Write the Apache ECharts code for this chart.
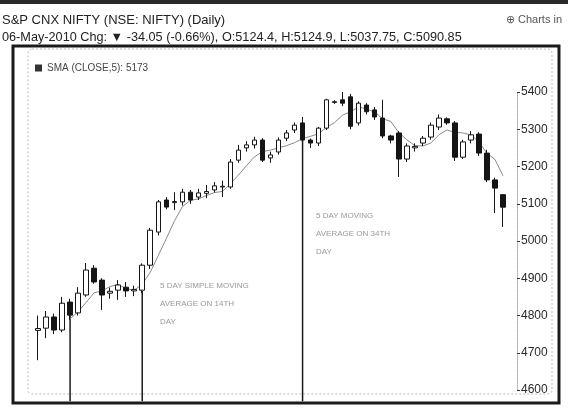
<!DOCTYPE html>
<html>
<head>
<meta charset="utf-8">
<title>S&amp;P CNX NIFTY (Daily)</title>
<script src="https://cdn.jsdelivr.net/npm/echarts@6/dist/echarts.min.js"></script>
<style>
    html, body { margin: 0; padding: 0; background: #fff; }
    #main { width: 568px; height: 409px; }
</style>
</head>
<body>
<div id="main"></div>
<script type="text/javascript">
// trading days, 8-Feb-2010 .. 6-May-2010
var dates = [
    '08-Feb', '09-Feb', '10-Feb', '11-Feb', '15-Feb', '16-Feb', '17-Feb', '18-Feb', '19-Feb', '22-Feb',
    '23-Feb', '24-Feb', '25-Feb', '26-Feb', '02-Mar', '03-Mar', '04-Mar', '05-Mar', '08-Mar', '09-Mar',
    '10-Mar', '11-Mar', '12-Mar', '15-Mar', '16-Mar', '17-Mar', '18-Mar', '19-Mar', '22-Mar', '23-Mar',
    '25-Mar', '26-Mar', '29-Mar', '30-Mar', '31-Mar', '01-Apr', '05-Apr', '06-Apr', '07-Apr', '08-Apr',
    '09-Apr', '12-Apr', '13-Apr', '15-Apr', '16-Apr', '19-Apr', '20-Apr', '21-Apr', '22-Apr', '23-Apr',
    '26-Apr', '27-Apr', '28-Apr', '29-Apr', '30-Apr', '03-May', '04-May', '05-May', '06-May'
];
var opens  = [4760, 4766, 4796, 4761, 4836, 4807, 4855, 4927, 4895, 4860,
              4868, 4876, 4866, 4868, 4935, 5024, 5110, 5103, 5105, 5131,
              5118, 5128, 5137, 5145, 5145, 5217, 5250, 5258, 5271, 5223,
              5239, 5276, 5298, 5317, 5271, 5263, 5303, 5372, 5379, 5387,
              5317, 5365, 5352, 5330, 5282, 5290, 5220, 5250, 5263, 5279,
              5306, 5328, 5317, 5225, 5271, 5287, 5236, 5164, 5124.4];
var closes = [4765, 4796, 4761, 4833, 4801, 4860, 4922, 4890, 4855, 4865,
              4882, 4866, 4870, 4935, 5029, 5105, 5091, 5106, 5131, 5110,
              5129, 5133, 5148, 5147, 5212, 5244, 5258, 5271, 5217, 5231,
              5271, 5290, 5311, 5271, 5263, 5303, 5379, 5374, 5370, 5308,
              5370, 5347, 5333, 5282, 5271, 5220, 5255, 5254, 5276, 5311,
              5330, 5317, 5225, 5266, 5285, 5236, 5164, 5142, 5090.85];
var lows   = [4680, 4739, 4750, 4755, 4788, 4800, 4850, 4885, 4815, 4845,
              4842, 4850, 4852, 4860, 4925, 5015, 5085, 5083, 5095, 5100,
              5110, 5115, 5130, 5118, 5140, 5210, 5240, 5248, 5212, 5210,
              5232, 5268, 5290, 5262, 5250, 5255, 5298, 5368, 5362, 5300,
              5310, 5340, 5325, 5276, 5262, 5172, 5212, 5240, 5255, 5272,
              5298, 5312, 5215, 5220, 5262, 5228, 5158, 5075, 5037.75];
var highs  = [4800, 4812, 4805, 4850, 4845, 4876, 4941, 4935, 4900, 4875,
              4895, 4890, 4880, 4940, 5035, 5110, 5118, 5131, 5140, 5137,
              5140, 5150, 5158, 5162, 5220, 5258, 5268, 5280, 5276, 5240,
              5278, 5298, 5318, 5333, 5275, 5306, 5382, 5378, 5400, 5395,
              5375, 5370, 5360, 5379, 5285, 5295, 5262, 5262, 5282, 5318,
              5340, 5332, 5322, 5272, 5295, 5292, 5245, 5170, 5124.9];
// 5 day SMA of close, as drawn
var sma5 = ['-', '-', '-', '-', 4791, 4810, 4835, 4861, 4866, 4878,
            4883, 4872, 4868, 4884, 4916, 4961, 5006, 5053, 5092, 5109,
            5113, 5122, 5130, 5133, 5154, 5177, 5202, 5226, 5240, 5244,
            5250, 5256, 5264, 5275, 5281, 5288, 5305, 5318, 5338, 5347,
            5360, 5354, 5346, 5328, 5321, 5291, 5272, 5256, 5255, 5263,
            5285, 5298, 5292, 5290, 5285, 5266, 5235, 5219, 5175];

// vertical marker lines (day index, price where the line starts)
var markDays = [4, 13, 33];
var markTops = [4800, 4866, 5271];

var yMin = 4600, yMax = 5400, yStep = 100;

var candles = [];
for (var i = 0; i < dates.length; i++) {
    candles.push([opens[i], closes[i], lows[i], highs[i]]);
}

var myChart = echarts.init(document.getElementById('main'));

var series = [{
    name: 'NIFTY',
    type: 'candlestick',
    data: candles,
    barWidth: 5,
    z: 3,
    itemStyle: {
        color: '#ffffff',
        color0: '#151515',
        borderColor: '#151515',
        borderColor0: '#151515',
        borderWidth: 1
    }
}, {
    name: 'SMA (CLOSE,5): 5173',
    type: 'line',
    data: sma5,
    symbol: 'none',
    z: 2,
    lineStyle: {color: '#8a8a8a', width: 1}
}];

for (var k = 0; k < markDays.length; k++) {
    series.push({
        type: 'line',
        data: [[markDays[k], markTops[k]], [markDays[k], 4570]],
        symbol: 'none',
        clip: false,
        silent: true,
        z: 1,
        lineStyle: {color: '#1a1a1a', width: 1.5}
    });
}

var option = {
    backgroundColor: '#ffffff',
    animation: false,
    textStyle: {fontFamily: 'Liberation Sans, Arial, sans-serif'},
    grid: {left: 34, right: 61, top: 92, bottom: 19},
    legend: {
        left: 30,
        top: 58,
        itemWidth: 7,
        itemHeight: 7,
        itemGap: 4,
        textStyle: {fontSize: 10, color: '#444'},
        data: [{name: 'SMA (CLOSE,5): 5173', icon: 'rect', itemStyle: {color: '#333'}}]
    },
    xAxis: {
        type: 'category',
        data: dates,
        boundaryGap: true,
        axisLine: {show: false},
        axisTick: {show: false},
        axisLabel: {show: false},
        splitLine: {show: false}
    },
    yAxis: {
        type: 'value',
        position: 'right',
        offset: 10,
        min: yMin,
        max: yMax,
        interval: yStep,
        axisLine: {show: true, lineStyle: {color: '#aaa', type: 'dotted'}},
        axisTick: {show: true, length: 3, lineStyle: {color: '#333'}},
        axisLabel: {color: '#2a2a2a', fontSize: 12, margin: 4, formatter: function (v) { return String(v); }},
        splitLine: {show: false}
    },
    graphic: [
        // top band of the header
        {type: 'rect', shape: {x: 0, y: 0, width: 568, height: 4}, style: {fill: '#2a2a2a'}, silent: true},
        {type: 'text', left: 2, top: 14, style: {
            text: 'S&P CNX NIFTY (NSE: NIFTY) (Daily)',
            font: '13px Liberation Sans, Arial, sans-serif', fill: '#222'}},
        {type: 'text', left: 2, top: 31, style: {
            text: '06-May-2010 Chg: \u25BC -34.05 (-0.66%), O:5124.4, H:5124.9, L:5037.75, C:5090.85',
            font: '12.7px Liberation Sans, Arial, sans-serif', fill: '#222'}},
        {type: 'text', right: 6, top: 14, style: {
            text: '\u2295 Charts in',
            font: '11px Liberation Sans, Arial, sans-serif', fill: '#555'}},
        // chart frame
        {type: 'rect', shape: {x: 28, y: 49, width: 524, height: 345, r: 4},
            style: {fill: 'none', stroke: '#bbb', lineWidth: 1, lineDash: [2, 2]}, silent: true},
        {type: 'rect', shape: {x: 13, y: 46, width: 546, height: 357},
            style: {fill: 'none', stroke: '#1a1a1a', lineWidth: 3}, silent: true},
        // notes
        {type: 'text', left: 160, top: 277, style: {
            text: '5 DAY SIMPLE MOVING\nAVERAGE ON 14TH\nDAY',
            font: '8px Liberation Sans, Arial, sans-serif', fill: '#999', lineHeight: 18}},
        {type: 'text', left: 316, top: 207, style: {
            text: '5 DAY MOVING\nAVERAGE ON 34TH\nDAY',
            font: '8px Liberation Sans, Arial, sans-serif', fill: '#999', lineHeight: 18}}
    ],
    series: series
};
myChart.setOption(option);
</script>
</body>
</html>
